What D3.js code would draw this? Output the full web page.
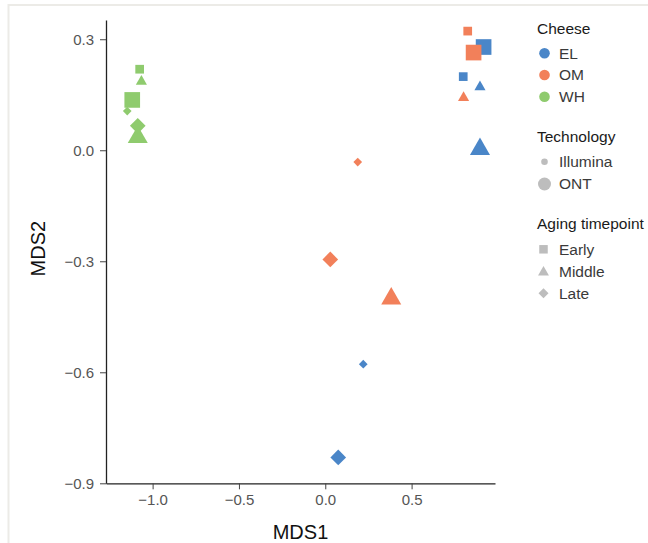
<!DOCTYPE html>
<html>
<head>
<meta charset="utf-8">
<script src="https://cdn.jsdelivr.net/npm/d3@7"></script>
<style>
  html, body { margin: 0; padding: 0; background: #fff; }
  svg { display: block; font-family: "Liberation Sans", Arial, Helvetica, sans-serif; }
</style>
</head>
<body>
<svg id="chart" width="648" height="543"></svg>
<script>
// ---- Data ----
const cheeses = ["EL", "OM", "WH"];
const technologies = ["Illumina", "ONT"];
const timepoints = ["Early", "Middle", "Late"];

const sampleCheese = ["EL","EL","EL","EL","EL","EL","OM","OM","OM","OM","OM","OM","WH","WH","WH","WH","WH","WH"];
const sampleTech   = ["Illumina","Illumina","Illumina","ONT","ONT","ONT","Illumina","Illumina","Illumina","ONT","ONT","ONT","Illumina","Illumina","Illumina","ONT","ONT","ONT"];
const sampleTime   = ["Early","Middle","Late","Early","Middle","Late","Early","Middle","Late","Early","Middle","Late","Early","Middle","Late","Early","Middle","Late"];
const mds1 = [0.799, 0.896, 0.220, 0.917, 0.896, 0.075, 0.825, 0.801, 0.188, 0.859, 0.382, 0.029, -1.075, -1.065, -1.147, -1.118, -1.086, -1.086];
const mds2 = [0.199, 0.171, -0.578, 0.279, 0.003, -0.830, 0.322, 0.142, -0.032, 0.264, -0.401, -0.295, 0.219, 0.186, 0.106, 0.136, 0.035, 0.066];

const xTicks = [-1.0, -0.5, 0.0, 0.5];
const yTicks = [0.3, 0.0, -0.3, -0.6, -0.9];

// ---- Setup ----
const svg = d3.select("#chart");
const W = 648, H = 543;

// card border
svg.append("path")
  .attr("d", `M8.5,${H} V5 H${W}`)
  .attr("fill", "none")
  .attr("stroke", "#ecebe7")
  .attr("stroke-width", 2);

const x = d3.scaleLinear().domain([-1.27, 0.983]).range([106, 495]);
const y = d3.scaleLinear().domain([-0.9, 0.352]).range([483.3, 20]);

const color = d3.scaleOrdinal().domain(cheeses).range(["#4a86c8", "#f2805a", "#8fcb6e"]);
const sizeScale = d3.scaleOrdinal().domain(technologies).range([1, 1.8]);

// shape path generators; base = characteristic px size
function shapePath(kind, base) {
  if (kind === "Early") {          // square, side = base
    const h = base / 2;
    return `M${-h},${-h}H${h}V${h}H${-h}Z`;
  } else if (kind === "Middle") {  // equilateral triangle, width = 1.28*base, centred on centroid
    const w = base * 1.28, ht = w * Math.sqrt(3) / 2;
    return `M0,${-2 * ht / 3}L${w / 2},${ht / 3}L${-w / 2},${ht / 3}Z`;
  } else {                         // diamond, diagonal = base
    const h = base / 2;
    return `M0,${-h}L${h},0L0,${h}L${-h},0Z`;
  }
}
const baseSize = 8.7;

// ---- Axes ----
const axisColor = "#222";
const gx = svg.append("g").attr("transform", `translate(0,${y(-0.9)})`)
  .call(d3.axisBottom(x).tickValues(xTicks).tickFormat(d3.format(".1f")).tickSize(6).tickPadding(5).tickSizeOuter(0));
const gy = svg.append("g").attr("transform", `translate(${x(-1.27)},0)`)
  .call(d3.axisLeft(y).tickValues(yTicks).tickFormat(d3.format(".1f")).tickSize(6).tickPadding(6).tickSizeOuter(0));

[gx, gy].forEach(g => {
  g.select(".domain").attr("stroke", axisColor).attr("stroke-width", 1.3);
  g.selectAll(".tick line").attr("stroke", "#444").attr("stroke-width", 1);
  g.selectAll(".tick text").attr("fill", "#555").style("font-size", "15px")
    .style("font-family", "'Liberation Sans', Arial, sans-serif");
});

svg.append("text")
  .attr("x", (x.range()[0] + x.range()[1]) / 2).attr("y", 539)
  .attr("text-anchor", "middle").attr("fill", "#111")
  .style("font-size", "20px").text("MDS1");
svg.append("text")
  .attr("transform", `translate(44.5,${(y.range()[0] + y.range()[1]) / 2 - 3}) rotate(-90)`)
  .attr("text-anchor", "middle").attr("fill", "#111")
  .style("font-size", "20px").text("MDS2");

// ---- Points ----
const points = mds1.map((v, i) => ({ x: v, y: mds2[i], cheese: sampleCheese[i], tech: sampleTech[i], time: sampleTime[i] }));
svg.append("g").selectAll("path").data(points).join("path")
  .attr("transform", d => `translate(${x(d.x)},${y(d.y)})`)
  .attr("d", d => shapePath(d.time, baseSize * sizeScale(d.tech)))
  .attr("fill", d => color(d.cheese));

// ---- Legend ----
const lg = svg.append("g");
const lx = 537, mx = 544.5, tx = 559;
const gray = "#bdbdbd";
function title(t, yy) {
  lg.append("text").attr("x", lx).attr("y", yy).attr("fill", "#1a1a1a")
    .style("font-size", "15.5px").text(t);
}
function label(t, yy) {
  lg.append("text").attr("x", tx).attr("y", yy + 5.3).attr("fill", "#3a3a3a")
    .style("font-size", "15.5px").text(t);
}
title("Cheese", 34);
cheeses.forEach((c, i) => {
  const yy = 53.3 + i * 21.7;
  lg.append("circle").attr("cx", mx).attr("cy", yy).attr("r", 5.3).attr("fill", color(c));
  label(c, yy);
});
title("Technology", 142);
const techR = [3.3, 6.5];
technologies.forEach((t, i) => {
  const yy = 161.7 + i * 22.3;
  lg.append("circle").attr("cx", mx).attr("cy", yy).attr("r", techR[i]).attr("fill", gray);
  label(t, yy);
});
title("Aging timepoint", 228.5);
timepoints.forEach((t, i) => {
  const yy = 249.3 + i * 22;
  lg.append("path").attr("transform", `translate(${mx - 1},${yy + (t === "Middle" ? 1 : 0)})`)
    .attr("d", shapePath(t, t === "Late" ? 10 : 8.5)).attr("fill", gray);
  label(t, yy);
});
</script>
</body>
</html>
